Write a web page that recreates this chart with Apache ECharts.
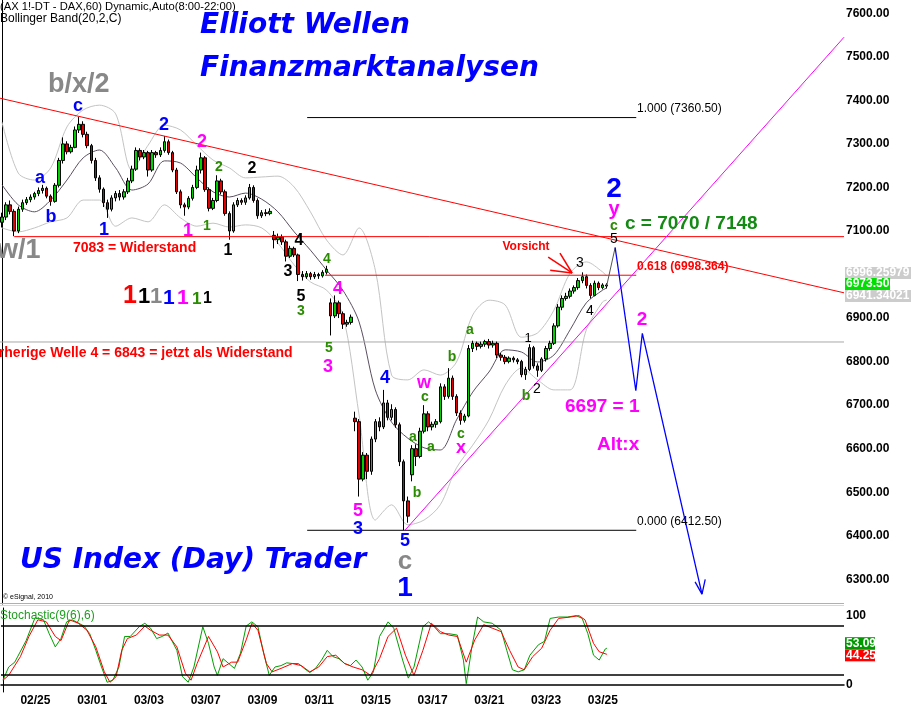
<!DOCTYPE html>
<html><head><meta charset="utf-8">
<script src="https://cdn.jsdelivr.net/npm/echarts@6/dist/echarts.min.js"></script>
<style>html,body{margin:0;padding:0;background:#fff}#c{width:911px;height:713px}</style>
</head><body><div id="c"></div>
<script>
// ---------- data ----------
const SLOTS = 208;
const dayLabels = ['02/25','03/01','03/03','03/07','03/09','03/11','03/15','03/17','03/21','03/23','03/25'];
const priceTicks = [6300,6400,6500,6600,6700,6800,6900,7000,7100,7200,7300,7400,7500,7600];
const opens  = [7120,7132,7160,7145,7100,7150,7165,7172,7178,7186,7193,7198,7180,7168,7205,7262,7300,7282,7292,7332,
 7345,7322,7296,7262,7222,7196,7165,7150,7176,7186,7178,7190,7215,7242,7285,7270,7280,7240,7280,7275,
 7285,7305,7280,7240,7190,7160,7155,7175,7200,7240,7268,7195,7152,7170,7215,7190,7140,7100,7160,7170,
 7166,7176,7200,7170,7135,7142,7140,7090,7080,7086,7075,7042,7060,7045,7000,6995,7002,6995,7000,6997,
 7005,6935,6905,6935,6910,6886,6890,6670,6662,6530,6585,6548,6622,6662,6650,6705,6672,6690,6655,6570,
 6480,6540,6600,6582,6640,6680,6650,6656,6662,6742,6720,6762,6720,6682,6665,6675,6830,6842,6835,6840,
 6846,6838,6842,6815,6810,6800,6808,6804,6800,6770,6782,6832,6790,6780,6806,6830,6842,6882,6925,6945,
 6950,6962,6970,6986,6995,6975,6952,6980,6970,6976];
const closes = [7132,7160,7145,7100,7150,7165,7172,7178,7186,7193,7198,7180,7168,7205,7262,7300,7282,7292,7332,7345,
 7322,7296,7262,7222,7196,7165,7150,7176,7186,7178,7190,7215,7242,7285,7270,7280,7240,7280,7275,7285,
 7305,7280,7240,7190,7160,7155,7175,7200,7240,7268,7195,7152,7170,7215,7190,7140,7100,7160,7170,7166,
 7176,7200,7170,7135,7142,7140,7145,7080,7086,7075,7042,7060,7045,7000,6995,7002,6995,7000,6997,7005,
 7012,6905,6935,6910,6886,6890,6902,6662,6530,6585,6548,6622,6662,6650,6705,6672,6690,6655,6570,6480,
 6445,6600,6582,6640,6680,6650,6656,6662,6742,6720,6762,6720,6682,6665,6675,6830,6842,6835,6840,6846,
 6838,6842,6815,6810,6800,6808,6804,6800,6770,6782,6832,6790,6780,6806,6830,6842,6882,6925,6945,6950,
 6962,6970,6986,6995,6975,6952,6980,6970,6976,6973.5];
const lows   = [7108,7125,7138,7088,7095,7144,7160,7166,7172,7180,7186,7175,7158,7165,7200,7255,7276,7278,7290,7325,
 7315,7290,7255,7215,7188,7155,7130,7145,7168,7170,7172,7185,7210,7238,7262,7265,7225,7236,7268,7270,
 7280,7275,7235,7185,7152,7135,7150,7170,7196,7232,7190,7145,7148,7166,7184,7135,7080,7096,7155,7160,
 7160,7172,7165,7128,7130,7134,7136,7060,7070,7068,7030,7038,7040,6985,6986,6990,6988,6990,6990,6993,
 7000,6860,6900,6900,6875,6880,6885,6640,6490,6525,6530,6540,6615,6640,6645,6665,6665,6648,6560,6413,
 6430,6525,6560,6578,6635,6640,6642,6648,6658,6712,6715,6712,6675,6655,6660,6672,6822,6826,6830,6834,
 6830,6832,6808,6802,6794,6796,6798,6794,6764,6758,6778,6784,6765,6776,6800,6825,6838,6878,6918,6940,
 6945,6956,6965,6980,6968,6945,6950,6964,6966,6968];
const highs  = [7142,7166,7170,7150,7156,7172,7178,7184,7190,7200,7206,7202,7184,7210,7268,7315,7306,7298,7340,7362,
 7352,7328,7300,7268,7228,7200,7172,7182,7192,7194,7196,7222,7250,7292,7290,7286,7284,7286,7284,7292,
 7318,7310,7284,7245,7195,7165,7180,7206,7250,7280,7272,7200,7176,7228,7220,7195,7145,7166,7176,7175,
 7182,7208,7205,7175,7148,7150,7152,7100,7094,7092,7080,7066,7064,7048,7008,7008,7006,7006,7004,7010,
 7020,6945,6952,6940,6915,6896,6908,6685,6668,6592,6590,6628,6668,6672,6735,6712,6702,6695,6660,6575,
 6490,6608,6610,6648,6700,6686,6662,6668,6750,6748,6785,6768,6725,6688,6680,6838,6848,6846,6846,6850,
 6852,6848,6846,6820,6815,6812,6812,6808,6804,6788,6840,6836,6796,6810,6836,6848,6888,6932,6952,6958,
 6968,6975,6992,7005,7000,6980,6986,6984,6980,6980];

const bbSlots  = [0,4,8,12,16,20,24,28,32,36,40,44,48,52,56,60,64,68,72,76,80,84,88,92,96,100,104,108,112,116,120,124,128,132,136,140,144,148,149];
const bbUpper  = [7350,7233,7217,7245,7339,7378,7389,7369,7240,7297,7343,7332,7297,7263,7245,7222,7224,7226,7201,7144,7079,7045,7107,7010,6769,6758,6781,6769,6799,6907,6941,6930,6856,6866,6918,7003,7029,7006,6996.26];
const bbMiddle = [7206,7160,7144,7171,7217,7268,7286,7245,7194,7208,7261,7256,7222,7190,7178,7187,7173,7144,7098,7056,7010,6964,6891,6735,6661,6624,6602,6597,6666,6730,6776,6827,6822,6799,6815,6873,6935,6964,6969];
const bbLower  = [7107,7098,7107,7121,7130,7171,7171,7111,7130,7121,7160,7130,7111,7118,7109,7114,7107,7072,7022,6983,6964,6907,6677,6436,6471,6425,6436,6471,6556,6608,6666,6746,6785,6758,6735,6735,6873,6937,6941.34];

const stochK = [[0,7],[1.4,26],[2.9,33],[5.7,64],[7.9,97],[10,94],[11.4,74],[12.9,55],[14.3,67],[15.7,91],[17.1,94],[20,85],[21.4,74],[22.9,50],[24.3,26],[25.7,4],[27.1,7],[28.6,26],[30,70],[31.4,70],[33.6,84],[35,89],[36.4,82],[37.9,67],[39.3,70],[40.7,75],[42.9,50],[44.3,12],[45.7,4],[47.1,26],[49.3,84],[50.7,60],[52.1,26],[52.9,14],[54.3,38],[55.7,31],[57.1,24],[58.6,46],[60,85],[61.4,91],[62.9,84],[64.3,46],[65.7,14],[67.1,26],[68.6,28],[70,32],[71.4,31],[72.9,31],[74.3,24],[75.7,18],[77.1,24],[78.6,36],[80,50],[81.4,41],[82.9,38],[84.3,31],[85.7,28],[87.1,36],[88.6,26],[90,7],[91.4,19],[92.9,70],[95,91],[96.4,82],[98.6,36],[100,10],[101.4,26],[103.6,84],[105,91],[106.4,84],[107.9,74],[110,74],[112.1,72],[113.6,36],[114.3,2],[115.7,55],[117.1,98],[118.6,91],[120.7,89],[122.9,79],[124.3,50],[125.7,22],[127.1,19],[128.6,22],[130,43],[132.1,58],[133.6,63],[135,96],[137.1,98],[139.3,98],[141.4,100],[142.9,96],[144.3,74],[145.7,43],[147.1,36],[148.6,52],[149,53.09]];
const stochD = [[0,7],[1.4,14],[4.3,41],[6.4,70],[8.6,94],[10.7,91],[12.9,70],[14.3,64],[16.4,94],[18.6,89],[20.7,79],[22.9,55],[25,19],[26.4,4],[27.9,12],[29.3,50],[30.7,67],[32.9,72],[35,85],[36.4,79],[38.6,72],[40.7,72],[42.9,55],[45,17],[46.4,7],[47.9,31],[50.7,70],[52.9,48],[54.3,26],[56.4,33],[57.9,33],[60,65],[61.4,89],[62.9,79],[65,31],[66.4,19],[68.6,24],[71.4,31],[73.6,28],[75.7,19],[77.9,26],[80,41],[82.1,43],[84.3,31],[86.4,26],[88.6,22],[90.7,14],[92.9,38],[95,70],[97.1,82],[99.3,43],[101.4,14],[103.6,50],[105.7,89],[107.9,77],[110,72],[112.1,70],[114.3,33],[116.4,65],[118.6,87],[120.7,82],[122.9,77],[125,50],[127.1,26],[128.6,22],[130.7,41],[132.9,53],[135,79],[137.1,96],[140,98],[142.1,100],[143.6,94],[145.7,60],[147.1,48],[149,44.25]];

const resistance = 7087, fib618 = 6998.364, fibHigh = 7360.5, fibLow = 6412.5, wave4Level = 6845;
const trendRed = [[-0.5,7405],[207.5,6958]];
const trendMagenta = [[99.3,6412.5],[207.5,7545]];
const projGrey = [[149,6973.5],[151.1,7062]];
const projBlue = [[151.1,7062],[156.2,6733],[157.8,6865],[172.5,6266]];
const projArrow = [[170.8,6294],[172.5,6266],[173.3,6300]];
const warnArrow = [[[134.6,7040],[140.5,7003.5]],[[137.5,7049],[140.5,7003.5]],[[135.1,7010],[140.5,7003.5]]];
const lastPrice = 6973.5, bbUpperLast = '6996.25979', bbLowerLast = '6941.34021';
const stochKLast = '53.09', stochDLast = '44.25';

// ---------- build ----------
const cats = Array.from({length: SLOTS}, () => '');
dayLabels.forEach((d, k) => { cats[8 + 14 * k] = d; });
const candles = opens.map((o, i) => [o, closes[i], lows[i], highs[i]]);
const pair = (xs, ys) => xs.map((x, i) => [x, ys[i]]);

const FONT = '"Liberation Sans", Arial, sans-serif';
function seg(data, color, width, z, type) {
  return {type: 'line', xAxisIndex: 1, yAxisIndex: 0, data, symbol: 'none', silent: true,
    animation: false, z: z || 3, lineStyle: {color, width: width || 1, type: type || 'solid'}};
}

const chart = echarts.init(document.getElementById('c'), null, {renderer: 'canvas'});
const series = [
  {type: 'line', xAxisIndex: 1, yAxisIndex: 0, data: pair(bbSlots, bbUpper), symbol: 'none', smooth: 0.3, silent: true, animation: false, z: 1, lineStyle: {color: '#c4c4c4', width: 1}},
  {type: 'line', xAxisIndex: 1, yAxisIndex: 0, data: pair(bbSlots, bbLower), symbol: 'none', smooth: 0.3, silent: true, animation: false, z: 1, lineStyle: {color: '#c4c4c4', width: 1}},
  {type: 'line', xAxisIndex: 1, yAxisIndex: 0, data: pair(bbSlots, bbMiddle), symbol: 'none', smooth: 0.3, silent: true, animation: false, z: 1, lineStyle: {color: '#5a5060', width: 1}},
  {type: 'candlestick', xAxisIndex: 0, yAxisIndex: 0, data: candles, barWidth: 3, animation: false, z: 2,
    itemStyle: {color: '#00d000', color0: '#e00000', borderColor: '#000', borderColor0: '#000', borderWidth: 1}},
  seg([[3, resistance], [207.5, resistance]], '#ff0000', 1),
  seg([[79.6, fib618], [156.3, fib618]], '#ff0000', 1),
  seg([[75.2, fibHigh], [156.3, fibHigh]], '#000', 1),
  seg([[75.2, fibLow], [156.3, fibLow]], '#000', 1),
  seg([[-0.5, wave4Level], [207.5, wave4Level]], '#a8a8a8', 1, 1),
  seg(trendRed, '#ff0000', 1),
  seg(trendMagenta, '#ff00ff', 1),
  seg(projGrey, '#555', 1),
  seg(projBlue, '#0000ff', 1.3),
  seg(projArrow, '#0000ff', 1.3),
  ...warnArrow.map(a => seg(a, '#ff0000', 1.5)),
  {type: 'line', xAxisIndex: 3, yAxisIndex: 1, data: stochK, symbol: 'none', silent: true, animation: false, z: 3, lineStyle: {color: '#00a000', width: 1},
    markLine: {silent: true, symbol: 'none', animation: false, label: {show: false}, lineStyle: {color: '#000', width: 1.5, type: 'solid'}, data: [{yAxis: 85}, {yAxis: 15}]}},
  {type: 'line', xAxisIndex: 3, yAxisIndex: 1, data: stochD, symbol: 'none', silent: true, animation: false, z: 4, lineStyle: {color: '#ff0000', width: 1}}
];

chart.setOption({
  animation: false,
  backgroundColor: '#fff',
  grid: [
    {left: 0, width: 844, top: 0, height: 604},
    {left: 0, width: 844, top: 608, height: 84}
  ],
  xAxis: [
    {type: 'category', gridIndex: 0, data: cats, show: false},
    {type: 'value', gridIndex: 0, min: -0.5, max: 207.5, show: false},
    {type: 'category', gridIndex: 1, data: cats, boundaryGap: true,
      axisLine: {show: true, lineStyle: {color: '#000', width: 1.5}}, axisTick: {show: false},
      axisLabel: {interval: 0, margin: 3, color: '#000', fontWeight: 'bold', fontSize: 12, fontFamily: FONT}},
    {type: 'value', gridIndex: 1, min: -0.5, max: 207.5, show: false}
  ],
  yAxis: [
    {type: 'value', gridIndex: 0, position: 'right', min: 6243.2, max: 7630.55, splitLine: {show: false},
      axisLine: {show: true, lineStyle: {color: '#000', width: 1}}, axisTick: {show: false},
      axisLabel: {margin: 2, color: '#000', fontWeight: 'bold', fontSize: 12, fontFamily: FONT, customValues: priceTicks,
        formatter: v => Number(v).toFixed(2)}},
    {type: 'value', gridIndex: 1, position: 'right', min: -10, max: 111, splitLine: {show: false},
      axisLine: {show: true, lineStyle: {color: '#000', width: 1}}, axisTick: {show: false},
      axisLabel: {margin: 2, color: '#000', fontWeight: 'bold', fontSize: 12, fontFamily: FONT, customValues: [0, 100]}}
  ],
  series
});

// ---------- annotations ----------
const BLUE = '#0000ff', MAG = '#ff00ff', GRN = '#2a8c00', GRY = '#888888', BLK = '#000', RED = '#ff0000';
// [text, x, y, color, size, weight, align]
const notes = [
  ['b/x/2', 48, 85, GRY, 27, 'bold', 'left'],
  ['w/1', -3, 251, GRY, 27, 'bold', 'left'],
  ['c', 78, 106, BLUE, 18], ['a', 40, 178, BLUE, 18], ['b', 51, 217, BLUE, 18], ['1', 104, 230, BLUE, 18],
  ['2', 164, 125, BLUE, 18], ['2', 202, 142, MAG, 18], ['1', 188, 231, MAG, 18],
  ['1', 207, 226, GRN, 14], ['2', 219, 167, GRN, 14],
  ['2', 252, 169, BLK, 16], ['1', 228, 251, BLK, 16], ['4', 299, 241, BLK, 16], ['3', 288, 272, BLK, 16], ['5', 301, 297, BLK, 16],
  ['3', 301, 311, GRN, 14], ['4', 327, 259, GRN, 14], ['4', 338, 289, MAG, 18], ['5', 329, 348, GRN, 14], ['3', 328, 367, MAG, 18],
  ['4', 385, 378, BLUE, 18], ['w', 424, 383, MAG, 18], ['c', 425, 397, GRN, 14], ['a', 413, 437, GRN, 14], ['a', 431, 447, GRN, 14],
  ['b', 417, 493, GRN, 14], ['5', 358, 511, MAG, 18], ['3', 358, 529, BLUE, 18], ['5', 405, 541, BLUE, 18],
  ['c', 405, 562, GRY, 26], ['1', 405, 588, BLUE, 28],
  ['b', 452, 357, GRN, 14], ['c', 461, 434, GRN, 14], ['x', 461, 448, MAG, 18], ['a', 470, 330, GRN, 14],
  ['1', 528, 338, BLK, 13, 'normal'], ['b', 526, 396, GRN, 14], ['2', 537, 389, BLK, 14, 'normal'],
  ['3', 580, 263, BLK, 14, 'normal'], ['4', 590, 311, BLK, 14, 'normal'], ['5', 614, 239, BLK, 14, 'normal'],
  ['c', 614, 226, GRN, 14], ['y', 614, 209, MAG, 20], ['2', 614, 189, BLUE, 28],
  ['c = 7070 / 7148', 625, 224, '#138a13', 19, 'bold', 'left'],
  ['0.618 (6998.364)', 637, 267, RED, 12, 'bold', 'left'],
  ['1.000 (7360.50)', 637, 109, BLK, 12, 'normal', 'left'],
  ['0.000 (6412.50)', 637, 522, BLK, 12, 'normal', 'left'],
  ['Vorsicht', 526, 247, RED, 12, 'bold'],
  ['7083 = Widerstand', 73, 248, RED, 14, 'bold', 'left'],
  ['Vorherige Welle 4 = 6843 = jetzt als Widerstand', -18, 353, RED, 14, 'bold', 'left'],
  ['1', 123, 296, RED, 25, 'bold', 'left'], ['1', 138, 297, BLK, 22, 'bold', 'left'], ['1', 150, 297, GRY, 22, 'bold', 'left'],
  ['1', 163, 298, BLUE, 21, 'bold', 'left'], ['1', 177, 298, MAG, 21, 'bold', 'left'], ['1', 192, 299, GRN, 17, 'bold', 'left'],
  ['1', 203, 299, BLK, 16, 'bold', 'left'],
  ['6697 = 1', 565, 407, MAG, 19, 'bold', 'left'],
  ['Alt:x', 597, 445, MAG, 19, 'bold', 'left'],
  ['2', 642, 320, MAG, 19],
  ['\u00a9 eSignal, 2010', 3, 597, BLK, 7, 'normal', 'left'],
  ['Stochastic(9(6),6)', 0, 616, '#1e9e1e', 12, 'normal', 'left'],
  ['(AX 1!-DT - DAX,60) Dynamic,Auto(8:00-22:00)', 0, 7, BLK, 11.2, 'normal', 'left'],
  ['Bollinger Band(20,2,C)', 0, 19, BLK, 12, 'normal', 'left']
];
const titles = [
  ['Elliott Wellen', 200, 26], ['Finanzmarktanalysen', 200, 69], ['US Index (Day) Trader', 20, 561]
];

const els = [];
els.push({type: 'line', silent: true, z: 50, shape: {x1: 0, y1: 603.5, x2: 844, y2: 603.5}, style: {stroke: '#b0b0b0', lineWidth: 1}});
els.push({type: 'line', silent: true, z: 50, shape: {x1: 0, y1: 605.5, x2: 844, y2: 605.5}, style: {stroke: '#d8d8d8', lineWidth: 1}});
notes.forEach(n => {
  els.push({type: 'text', silent: true, z: 100, x: n[1], y: n[2],
    style: {text: n[0], fill: n[3], fontSize: n[4], fontWeight: n[5] || 'bold', fontFamily: FONT,
      align: n[6] || 'center', verticalAlign: 'middle'}});
});
titles.forEach(t => {
  els.push({type: 'text', silent: true, z: 100, x: t[1], y: t[2],
    style: {text: t[0], fill: '#0000ff', fontSize: 28, fontWeight: 'bold', fontStyle: 'italic',
      fontFamily: '"DejaVu Sans", Verdana, sans-serif', align: 'left', verticalAlign: 'middle'}});
});

function tag(text, yc, w, bg, fg) {
  els.push({type: 'rect', silent: true, z: 110, shape: {x: 845, y: yc - 6, width: w, height: 12}, style: {fill: bg}});
  els.push({type: 'text', silent: true, z: 111, x: 846, y: yc, style: {text, fill: fg, fontSize: 12, fontWeight: 'bold', fontFamily: FONT, align: 'left', verticalAlign: 'middle'}});
}
const yLast = chart.convertToPixel({yAxisIndex: 0}, lastPrice);
tag(bbUpperLast, yLast - 13, 66, '#cccccc', '#ffffff');
tag(bbLowerLast, yLast + 10, 66, '#cccccc', '#ffffff');
tag('6973.50', yLast - 2, 45, '#00e000', '#ffffff');
const yK = chart.convertToPixel({yAxisIndex: 1}, Number(stochKLast));
const yD = chart.convertToPixel({yAxisIndex: 1}, Number(stochDLast));
tag(stochKLast, yK - 5, 30, '#009900', '#ffffff');
tag(stochDLast, yD + 1, 30, '#ff0000', '#ffffff');

chart.setOption({graphic: {elements: els}});
</script></body></html>
